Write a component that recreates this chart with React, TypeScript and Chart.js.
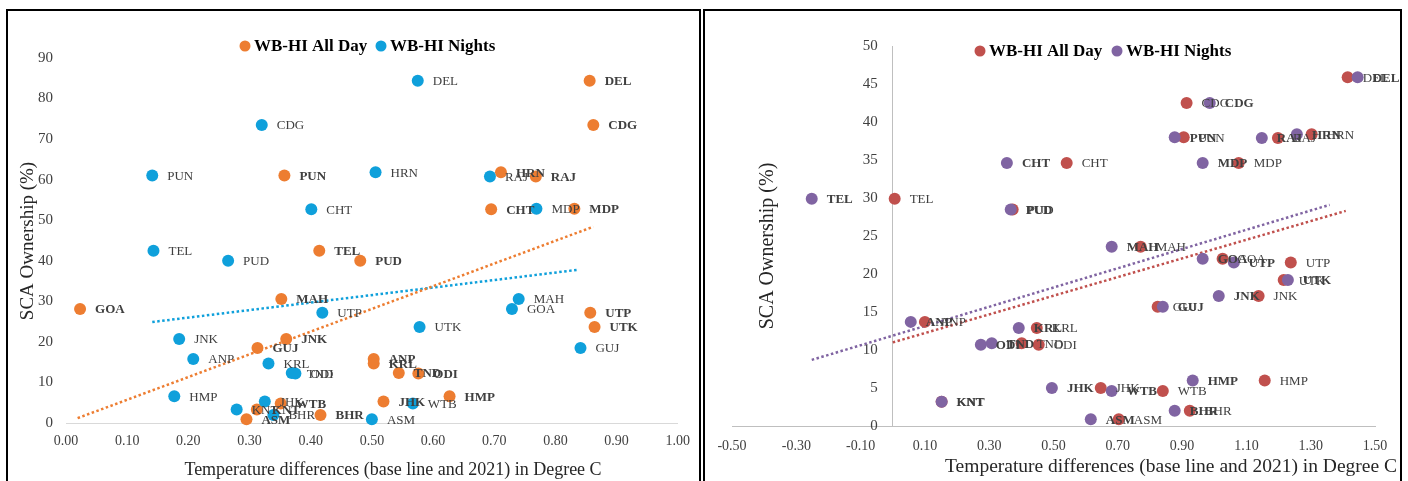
import React, { useEffect, useRef } from "react";
import { Chart, registerables } from "chart.js";
Chart.register(...registerables);

const FONT = '"Liberation Serif", "Times New Roman", serif';

const states = ["DEL", "CDG", "PUN", "HRN", "RAJ", "CHT", "MDP", "TEL", "PUD", "MAH", "GOA", "UTP", "UTK", "JNK", "GUJ", "ANP", "KRL", "TND", "ODI", "HMP", "JHK", "WTB", "KNT", "BHR", "ASM"];

// Left panel
const leftOwnership = [84.4, 73.5, 61.0, 61.8, 60.8, 52.7, 52.8, 42.5, 40.0, 30.6, 28.1, 27.2, 23.7, 20.7, 18.5, 15.8, 14.7, 12.3, 12.2, 6.6, 5.3, 4.8, 3.3, 2.0, 0.9];
const leftAllDayTemp = [0.856, 0.862, 0.357, 0.711, 0.768, 0.695, 0.831, 0.414, 0.481, 0.352, 0.023, 0.857, 0.864, 0.36, 0.313, 0.503, 0.503, 0.544, 0.576, 0.627, 0.519, 0.351, 0.312, 0.416, 0.295];
const leftNightsTemp = [0.575, 0.32, 0.141, 0.506, 0.693, 0.401, 0.769, 0.143, 0.265, 0.74, 0.729, 0.419, 0.578, 0.185, 0.841, 0.208, 0.331, 0.369, 0.375, 0.177, 0.325, 0.567, 0.279, 0.339, 0.5];
const leftAllDayTrendX = [0.019, 0.862];
const leftAllDayTrendY = [1.2, 48.4];
const leftNightsTrendX = [0.141, 0.838];
const leftNightsTrendY = [24.9, 37.8];

// Right panel
const rightOwnership = [45.9, 42.5, 38.0, 38.4, 37.9, 34.6, 34.6, 29.9, 28.5, 23.6, 22.0, 21.5, 19.2, 17.1, 15.7, 13.7, 12.9, 10.9, 10.7, 6.0, 5.0, 4.6, 3.2, 2.0, 0.9];
const rightAllDayTemp = [1.415, 0.914, 0.905, 1.303, 1.198, 0.541, 1.076, 0.006, 0.373, 0.771, 1.026, 1.238, 1.216, 1.138, 0.824, 0.1, 0.448, 0.401, 0.454, 1.157, 0.647, 0.84, 0.152, 0.924, 0.703];
const rightNightsTemp = [1.446, 0.986, 0.877, 1.257, 1.148, 0.355, 0.964, -0.252, 0.367, 0.681, 0.964, 1.061, 1.229, 1.014, 0.84, 0.056, 0.392, 0.308, 0.274, 0.933, 0.495, 0.681, 0.152, 0.877, 0.616];
const rightAllDayTrendX = [0.0, 1.409];
const rightAllDayTrendY = [11.0, 28.3];
const rightNightsTrendX = [-0.252, 1.359];
const rightNightsTrendY = [8.7, 29.1];

const seriesNames = ["WB-HI All Day", "WB-HI Nights"];
const axisTitleX = "Temperature differences (base line and 2021) in Degree C";
const axisTitleY = "SCA Ownership (%)";

const leftColors = ["#ED7D31", "#0FA0DB"];
const rightColors = ["#C0504D", "#8064A2"];

const toPoints = (xs: number[], ys: number[]) => xs.map((x, i) => ({ x, y: ys[i] }));

const annotate = {
  id: "annotate",
  afterDatasetsDraw(chart: any, _args: any, opts: any) {
    const ctx = chart.ctx;
    ctx.save();
    (opts.pointLabels || []).forEach((pl: any) => {
      const meta = chart.getDatasetMeta(pl.datasetIndex);
      ctx.font = `${pl.bold ? "bold " : ""}13px ${FONT}`;
      ctx.fillStyle = "#404040";
      ctx.textAlign = "left";
      ctx.textBaseline = "middle";
      meta.data.forEach((el: any, j: number) => ctx.fillText(pl.labels[j], el.x + 15, el.y + 1));
    });
    (opts.legend || []).forEach((it: any) => {
      ctx.beginPath();
      ctx.arc(it.x, it.y, 5.5, 0, Math.PI * 2);
      ctx.fillStyle = it.color;
      ctx.fill();
      ctx.font = `bold 17px ${FONT}`;
      ctx.fillStyle = "#000";
      ctx.textAlign = "left";
      ctx.textBaseline = "middle";
      ctx.fillText(it.text, it.x + 9, it.y + 1);
    });
    (opts.titles || []).forEach((t: any) => {
      ctx.save();
      ctx.translate(t.x, t.y);
      if (t.rotate) ctx.rotate(-Math.PI / 2);
      ctx.font = `${t.size}px ${FONT}`;
      ctx.fillStyle = "#262626";
      ctx.textAlign = t.align || "center";
      ctx.textBaseline = "middle";
      ctx.fillText(t.text, 0, 0);
      ctx.restore();
    });
    ctx.restore();
  },
};

function trend(data: any[], color: string) {
  return {
    type: "scatter",
    data,
    showLine: true,
    borderColor: color,
    borderWidth: 2.5,
    borderDash: [2.5, 2.5],
    pointRadius: 0,
    order: 2,
    fill: false,
  };
}

function pts(data: any[], color: string, order: number) {
  return {
    data,
    backgroundColor: color,
    borderColor: color,
    pointRadius: 6,
    pointHoverRadius: 6,
    borderWidth: 0,
    order,
    clip: false,
  };
}

export default function App() {
  const leftRef = useRef<HTMLCanvasElement>(null);
  const rightRef = useRef<HTMLCanvasElement>(null);

  useEffect(() => {
    const left = new Chart(leftRef.current as HTMLCanvasElement, {
      type: "scatter",
      data: {
        datasets: [
          pts(toPoints(leftAllDayTemp, leftOwnership), leftColors[0], 1) as any,
          pts(toPoints(leftNightsTemp, leftOwnership), leftColors[1], 0) as any,
          trend(toPoints(leftAllDayTrendX, leftAllDayTrendY), leftColors[0]) as any,
          trend(toPoints(leftNightsTrendX, leftNightsTrendY), leftColors[1]) as any,
        ],
      },
      options: {
        responsive: false,
        animation: false,
        layout: { padding: { left: 0, right: 16, top: 58, bottom: 0 } },
        plugins: {
          legend: { display: false },
          tooltip: { enabled: false },
          annotate: {
            pointLabels: [
              { datasetIndex: 0, labels: states, bold: true },
              { datasetIndex: 1, labels: states, bold: false },
            ],
            legend: [
              { x: 245, y: 46, color: leftColors[0], text: seriesNames[0] },
              { x: 381, y: 46, color: leftColors[1], text: seriesNames[1] },
            ],
            titles: [
              { x: 28, y: 241, text: axisTitleY, size: 19, rotate: true },
              { x: 393, y: 470, text: axisTitleX, size: 18 },
            ],
          },
        } as any,
        scales: {
          x: {
            type: "linear",
            min: 0,
            max: 1,
            ticks: {
              stepSize: 0.1,
              padding: 10,
              color: "#404040",
              font: { family: FONT, size: 14 },
              callback: (v: any) => Number(v).toFixed(2),
            },
            grid: { display: false, drawTicks: false },
            border: { display: true, color: "#d9d9d9", width: 1 },
            afterFit: (s: any) => { s.height = 58; },
          },
          y: {
            type: "linear",
            min: 0,
            max: 90,
            ticks: {
              stepSize: 10,
              padding: 13,
              color: "#404040",
              font: { family: FONT, size: 15 },
            },
            grid: { display: false, drawTicks: false },
            border: { display: false },
            afterFit: (s: any) => { s.width = 66; },
          },
        },
      },
      plugins: [annotate],
    });

    const right = new Chart(rightRef.current as HTMLCanvasElement, {
      type: "scatter",
      data: {
        datasets: [
          pts(toPoints(rightAllDayTemp, rightOwnership), rightColors[0], 1) as any,
          pts(toPoints(rightNightsTemp, rightOwnership), rightColors[1], 0) as any,
          trend(toPoints(rightAllDayTrendX, rightAllDayTrendY), rightColors[0]) as any,
          trend(toPoints(rightNightsTrendX, rightNightsTrendY), rightColors[1]) as any,
        ],
      },
      options: {
        responsive: false,
        animation: false,
        layout: { padding: { left: 32, right: 33, top: 46, bottom: 0 } },
        plugins: {
          legend: { display: false },
          tooltip: { enabled: false },
          annotate: {
            pointLabels: [
              { datasetIndex: 0, labels: states, bold: false },
              { datasetIndex: 1, labels: states, bold: true },
            ],
            legend: [
              { x: 280, y: 51, color: rightColors[0], text: seriesNames[0] },
              { x: 417, y: 51, color: rightColors[1], text: seriesNames[1] },
            ],
            titles: [
              { x: 68, y: 246, text: axisTitleY, size: 20, rotate: true },
              { x: 697, y: 467, text: axisTitleX, size: 19.5, align: "right" },
            ],
          },
        } as any,
        scales: {
          x: {
            type: "linear",
            min: -0.5,
            max: 1.5,
            ticks: {
              stepSize: 0.2,
              padding: 12,
              color: "#404040",
              font: { family: FONT, size: 14 },
              callback: (v: any) => Number(v).toFixed(2),
            },
            grid: { display: false, drawTicks: false },
            border: { display: true, color: "#bfbfbf", width: 1 },
            afterFit: (s: any) => { s.height = 55; },
          },
          y: {
            type: "linear",
            position: { x: 0 } as any,
            min: 0,
            max: 50,
            ticks: {
              stepSize: 5,
              padding: 14,
              color: "#404040",
              font: { family: FONT, size: 15 },
              callback: (v: any) => `${v}\u2003`,
            },
            grid: { display: false, drawTicks: false },
            border: { display: true, color: "#bfbfbf", width: 1 },
          },
        },
      },
      plugins: [annotate],
    });

    return () => {
      left.destroy();
      right.destroy();
    };
  }, []);

  return (
    <div style={{ position: "fixed", left: 0, top: 0, width: 1408, height: 481, background: "#fff", overflow: "hidden" }}>
      <canvas ref={leftRef} width={700} height={481} style={{ position: "absolute", left: 0, top: 0, width: 700, height: 481 }} />
      <canvas ref={rightRef} width={708} height={481} style={{ position: "absolute", left: 700, top: 0, width: 708, height: 481 }} />
      <div style={{ position: "absolute", left: 6, top: 9, width: 695, height: 490, border: "2px solid #000", boxSizing: "border-box", pointerEvents: "none" }} />
      <div style={{ position: "absolute", left: 703, top: 9, width: 699, height: 490, border: "2px solid #000", boxSizing: "border-box", pointerEvents: "none" }} />
    </div>
  );
}
